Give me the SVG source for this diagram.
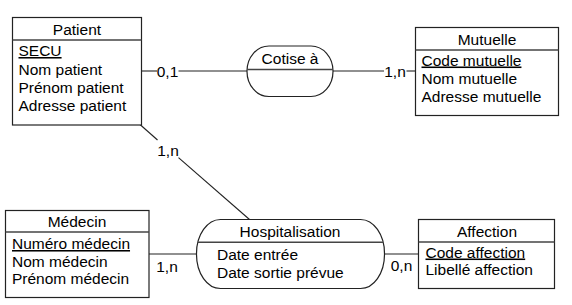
<svg xmlns="http://www.w3.org/2000/svg" width="572" height="305" viewBox="0 0 572 305">
<style>
text{font-family:"Liberation Sans",Arial,sans-serif;font-size:15.5px;fill:#000}
.t{text-anchor:middle}
.c{text-anchor:middle}
.u{text-decoration:underline}
.box{fill:#fff;stroke:#222;stroke-width:1.2}
.div{stroke:#444;stroke-width:1.6}
.ln{stroke:#222;stroke-width:1.1;fill:none}
</style>
<rect width="572" height="305" fill="#fff"/>
<g id="connectors">
<line class="ln" x1="141.5" y1="71" x2="157" y2="71"/>
<line class="ln" x1="178.5" y1="71" x2="247" y2="71"/>
<text class="c" x="167.5" y="77">0,1</text>
<line class="ln" x1="333" y1="71" x2="384" y2="71"/>
<line class="ln" x1="406.5" y1="71" x2="415.5" y2="71"/>
<text class="c" x="395" y="77">1,n</text>
<line class="ln" x1="140" y1="124.5" x2="157.5" y2="140"/>
<line class="ln" x1="178.5" y1="157.7" x2="249.5" y2="219.5"/>
<text class="c" x="168" y="155.5">1,n</text>
<line class="ln" x1="149" y1="254" x2="197" y2="254"/>
<text class="c" x="167" y="272">1,n</text>
<line class="ln" x1="384.5" y1="254" x2="418.5" y2="254"/>
<text class="c" x="401.5" y="271">0,n</text>
</g>
<g id="patient">
<rect class="box" x="12.5" y="17.5" width="129" height="107.5"/>
<line class="div" x1="12.5" y1="40" x2="141.5" y2="40"/>
<text class="t" x="77" y="35">Patient</text>
<text class="u" x="18.5" y="56">SECU</text>
<text x="18.5" y="74.5">Nom patient</text>
<text x="18.5" y="92.5">Prénom patient</text>
<text x="18.5" y="110.5">Adresse patient</text>
</g>
<g id="cotise">
<rect class="box" x="247" y="46" width="86" height="50.5" rx="22" ry="25"/>
<line class="div" x1="247.2" y1="69.5" x2="332.8" y2="69.5"/>
<text class="t" x="290" y="64">Cotise à</text>
</g>
<g id="mutuelle">
<rect class="box" x="415.5" y="27.5" width="143" height="88"/>
<line class="div" x1="415.5" y1="50" x2="558.5" y2="50"/>
<text class="t" x="487" y="45">Mutuelle</text>
<text class="u" x="421.5" y="65.5">Code mutuelle</text>
<text x="421.5" y="83.5">Nom mutuelle</text>
<text x="421.5" y="101.5">Adresse mutuelle</text>
</g>
<g id="medecin">
<rect class="box" x="5.5" y="210.5" width="143.5" height="87"/>
<line class="div" x1="5.5" y1="232" x2="149" y2="232"/>
<text class="t" x="77" y="227">Médecin</text>
<text class="u" x="12" y="249">Numéro médecin</text>
<text x="12" y="266.7">Nom médecin</text>
<text x="12" y="284.3">Prénom médecin</text>
</g>
<g id="hospitalisation">
<rect class="box" x="196.5" y="219.5" width="188" height="69" rx="24" ry="34"/>
<line class="div" x1="197.9" y1="242.3" x2="383.1" y2="242.3"/>
<text class="t" x="290" y="237">Hospitalisation</text>
<text x="217" y="260">Date entrée</text>
<text x="217" y="277.5">Date sortie prévue</text>
</g>
<g id="affection">
<rect class="box" x="418.5" y="219.5" width="136" height="69"/>
<line class="div" x1="418.5" y1="242" x2="554.5" y2="242"/>
<text class="t" x="487" y="236.5">Affection</text>
<text class="u" x="425.5" y="257.5">Code affection</text>
<text x="425.5" y="275">Libellé affection</text>
</g>
</svg>
